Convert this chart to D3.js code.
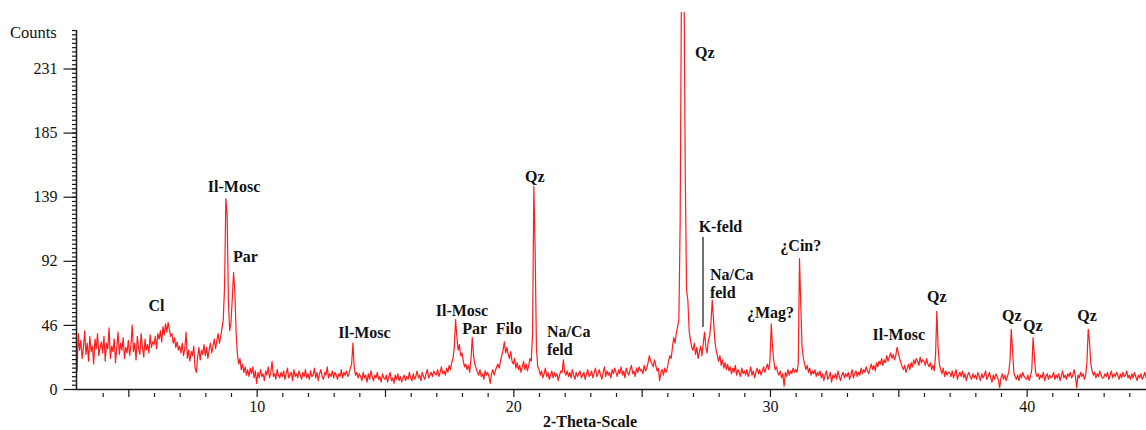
<!DOCTYPE html>
<html>
<head>
<meta charset="utf-8">
<script src="https://cdn.jsdelivr.net/npm/d3@7"></script>
<style>
  body { margin: 0; background: #fff; }
  svg { display: block; }
  .lbl { font-family: "Liberation Serif", "Times New Roman", serif; font-weight: bold; font-size: 16px; fill: #111; }
  .tick text { font-family: "Liberation Serif", "Times New Roman", serif; font-size: 16px; fill: #111; }
</style>
</head>
<body>
<svg id="chart" width="1146" height="430"></svg>
<script>
'use strict';

// scan parameters (2-theta, degrees)
var thetaStart = 3.0;
var thetaStep = 0.05;

// counts, one row per degree (x.00 .. x.95)
var counts = [
  12,40,28,35,22,30,42,25,33,20,38,27,31,18,36,29,40,24,30,34,   // 3
  26,38,20,33,29,44,22,31,27,36,19,30,41,25,33,28,37,22,30,26,   // 4
  35,24,31,46,27,33,21,38,29,25,40,30,23,36,28,32,26,39,30,34,   // 5
  32,38,29,40,36,42,34,45,39,47,41,48,43,38,40,33,37,30,34,28,   // 6
  31,26,33,24,29,41,22,28,20,27,24,31,15,12,23,30,21,28,25,32,   // 7
  24,30,22,28,33,26,31,36,29,35,40,33,38,44,50,75,137,125,62,42, // 8
  48,65,84,70,40,25,18,22,14,18,12,16,10,14,9,15,11,16,8,13,     // 9
  4,12,8,14,9,11,6,13,10,16,8,12,20,9,11,7,14,10,8,12,           // 10
  9,13,7,11,15,8,10,12,6,14,9,11,8,13,10,7,12,9,14,8,            // 11
  11,7,13,9,10,15,8,12,6,11,14,9,7,12,10,16,8,11,9,13,           // 12
  8,12,10,7,11,9,14,8,12,10,13,9,11,15,18,33,16,10,12,8,         // 13
  11,9,6,12,8,10,5,11,7,13,9,6,10,8,12,7,9,5,11,8,               // 14
  7,10,5,9,12,6,8,4,10,7,11,6,9,5,8,10,6,9,7,12,                 // 15
  8,6,11,7,9,13,8,10,6,12,9,7,11,14,8,10,12,9,13,11,             // 16
  10,14,9,12,16,11,13,10,15,12,17,14,19,22,30,50,38,28,32,24,    // 17
  26,20,16,18,14,17,12,22,37,24,18,15,12,10,14,9,11,7,13,10,     // 18
  12,9,4,11,14,10,13,16,18,15,20,24,28,34,26,30,25,22,27,20,     // 19
  18,22,15,19,14,17,12,16,20,14,18,13,17,22,20,40,146,100,30,16, // 20
  14,10,13,8,11,15,9,12,7,10,13,8,12,9,11,6,10,13,12,21,         // 21
  12,10,13,9,12,8,14,10,7,12,9,11,13,8,10,12,7,11,14,9,          // 22
  10,13,8,12,15,9,11,14,10,7,12,16,9,13,10,12,8,14,11,15,        // 23
  12,9,14,11,16,10,13,8,15,12,10,14,17,11,13,9,15,12,16,13,      // 24
  14,11,17,13,15,19,24,20,18,16,21,17,13,15,6,12,14,10,15,12,    // 25
  15,20,24,22,30,37,33,40,45,50,120,290,300,295,153,71,64,42,35,30, // 26
  28,33,25,30,22,27,31,24,33,41,30,26,35,38,48,64,50,35,28,24,   // 27
  20,24,17,21,15,19,14,18,13,16,11,15,12,17,10,14,12,9,15,11,    // 28
  13,10,14,9,12,16,10,13,8,12,15,11,14,10,13,16,12,15,18,14,     // 29
  20,47,30,20,14,16,12,10,13,8,11,2,12,9,14,10,13,11,15,12,      // 30
  14,12,18,94,60,30,22,18,14,17,12,15,10,13,11,14,9,12,10,13,    // 31
  8,11,6,10,13,7,9,12,5,10,8,11,7,13,9,6,10,12,8,11,             // 32
  9,12,7,10,14,8,11,13,9,12,10,15,11,14,12,16,13,11,15,18,       // 33
  14,17,13,19,16,20,18,22,17,21,19,24,20,23,26,22,25,21,24,30,   // 34
  26,22,19,16,14,17,12,15,18,14,19,16,21,18,22,20,17,23,19,21,   // 35
  20,17,22,18,16,19,14,17,13,24,56,30,18,14,11,15,9,13,10,12,    // 36
  12,9,13,8,11,14,7,10,12,9,13,8,11,6,10,12,9,7,11,8,            // 37
  10,7,12,9,6,11,8,10,13,7,9,12,8,5,10,7,11,9,6,1,               // 38
  8,11,7,10,6,9,12,20,43,28,12,9,7,10,6,11,8,12,9,8,             // 39
  7,10,6,9,14,37,24,12,9,11,7,10,8,12,6,9,11,7,10,8,             // 40
  9,12,7,10,8,11,6,9,13,8,10,7,11,9,12,8,10,14,9,1,              // 41
  10,8,12,9,11,7,10,20,43,34,18,13,10,12,8,11,9,13,10,8,         // 42
  8,11,9,12,7,10,13,8,11,9,12,10,7,11,8,12,9,10,13,8,            // 43
  10,7,11,8,12,9,6,10,8,11,7,9,12,8                              // 44
];

// axis ticks
var yTickValues = [0, 46.2, 92.4, 138.6, 184.8, 231];
var xMajorTicks = [5, 10, 15, 20, 25, 30, 35, 40];
var xLabelTicks = [10, 20, 30, 40];

// phase labels (text, 2-theta, counts at baseline)
var peakLabels = [
  { text: 'Cl',      theta: 6.10,  at: 56 },
  { text: 'Il-Mosc', theta: 9.12,  at: 142 },
  { text: 'Par',     theta: 9.56,  at: 91.5 },
  { text: 'Il-Mosc', theta: 14.20, at: 36.8 },
  { text: 'Il-Mosc', theta: 18.00, at: 52.6 },
  { text: 'Par',     theta: 18.49, at: 39.6 },
  { text: 'Filo',    theta: 19.83, at: 39.6 },
  { text: 'Qz',      theta: 20.84, at: 149 },
  { text: 'Qz',      theta: 27.46, at: 238.6 },
  { text: 'K-feld',  theta: 28.07, at: 113.2 },
  { text: '¿Mag?',   theta: 30.02, at: 51.2 },
  { text: '¿Cin?',   theta: 31.20, at: 99.5 },
  { text: 'Il-Mosc', theta: 35.02, at: 35.3 },
  { text: 'Qz',      theta: 36.50, at: 62.7 },
  { text: 'Qz',      theta: 39.42, at: 49 },
  { text: 'Qz',      theta: 40.24, at: 41.8 },
  { text: 'Qz',      theta: 42.35, at: 49 }
];
// two-line labels, left aligned
var feldLabels = [
  { lines: ['Na/Ca', 'feld'], theta: 21.31, at: [37.5, 24.5] },
  { lines: ['Na/Ca', 'feld'], theta: 27.66, at: [78.6, 65.6] }
];
// pointer line under K-feld
var kfeldMarker = { theta: 27.39, from: 109.5, to: 44.7 };

var svg = d3.select('#chart');

var x = d3.scaleLinear().domain([3, 44.65]).range([77, 1146]);
var y = d3.scaleLinear().domain([0, 231]).range([389, 68.5]);

svg.append('rect').attr('width', 1146).attr('height', 430).attr('fill', '#fff');

svg.append('clipPath').attr('id', 'plotclip')
  .append('rect').attr('x', 77).attr('y', 12).attr('width', 1069).attr('height', 380);

// pattern
var line = d3.line()
  .x(function(d, i) { return x(thetaStart + i * thetaStep); })
  .y(function(d) { return y(d); });

svg.append('path')
  .datum(counts)
  .attr('clip-path', 'url(#plotclip)')
  .attr('fill', 'none')
  .attr('stroke', '#ff1c1c')
  .attr('stroke-width', 1.2)
  .attr('stroke-linejoin', 'round')
  .attr('d', line);

// y axis: minor ticks then major
var axisColor = '#1a1a1a';
var yMinor = svg.append('g').attr('transform', 'translate(76.5,0)')
  .call(d3.axisLeft(y).tickValues(d3.range(0, 259, 46.2 / 15)).tickSize(4.5).tickFormat(''));
yMinor.select('.domain').remove();

var yAxis = svg.append('g').attr('transform', 'translate(76.5,0)')
  .call(d3.axisLeft(y).tickValues(yTickValues).tickSize(13).tickPadding(6).tickFormat(d3.format('.0f')));
yAxis.select('.domain').remove();

svg.append('line').attr('x1', 76.5).attr('x2', 76.5).attr('y1', 30).attr('y2', 389.5)
  .attr('stroke', axisColor).attr('stroke-width', 1.5);

// x axis
var xMinorTicks = d3.range(4, 45).filter(function(t) { return t % 5 !== 0; });
var xMinor = svg.append('g').attr('transform', 'translate(0,393)')
  .call(d3.axisBottom(x).tickValues(xMinorTicks).tickSize(4).tickFormat(''));
xMinor.select('.domain').remove();

var xAxis = svg.append('g').attr('transform', 'translate(0,389)')
  .call(d3.axisBottom(x).tickValues(xMajorTicks).tickSize(8).tickPadding(4)
    .tickFormat(function(d) { return xLabelTicks.indexOf(d) >= 0 ? d : ''; }));
xAxis.select('.domain').remove();

svg.append('line').attr('x1', 76).attr('x2', 1146).attr('y1', 389.5).attr('y2', 389.5)
  .attr('stroke', axisColor).attr('stroke-width', 1.5);

svg.selectAll('.tick line').attr('stroke', axisColor).attr('stroke-width', 1.2);

// axis titles
svg.append('text').attr('x', 10).attr('y', 38)
  .style('font-family', '"Liberation Serif", serif').style('font-size', '16.5px').attr('fill', '#111')
  .text('Counts');

svg.append('text').attr('class', 'lbl').attr('x', 590).attr('y', 427)
  .attr('text-anchor', 'middle').text('2-Theta-Scale');

// peak labels
svg.selectAll('text.peak').data(peakLabels).enter().append('text')
  .attr('class', 'lbl peak')
  .attr('x', function(d) { return x(d.theta); })
  .attr('y', function(d) { return y(d.at); })
  .attr('text-anchor', 'middle')
  .text(function(d) { return d.text; });

feldLabels.forEach(function(f) {
  f.lines.forEach(function(t, i) {
    svg.append('text').attr('class', 'lbl')
      .attr('x', x(f.theta)).attr('y', y(f.at[i]))
      .text(t);
  });
});

svg.append('line')
  .attr('x1', x(kfeldMarker.theta)).attr('x2', x(kfeldMarker.theta))
  .attr('y1', y(kfeldMarker.from)).attr('y2', y(kfeldMarker.to))
  .attr('stroke', '#111').attr('stroke-width', 1.2);
</script>
</body>
</html>
